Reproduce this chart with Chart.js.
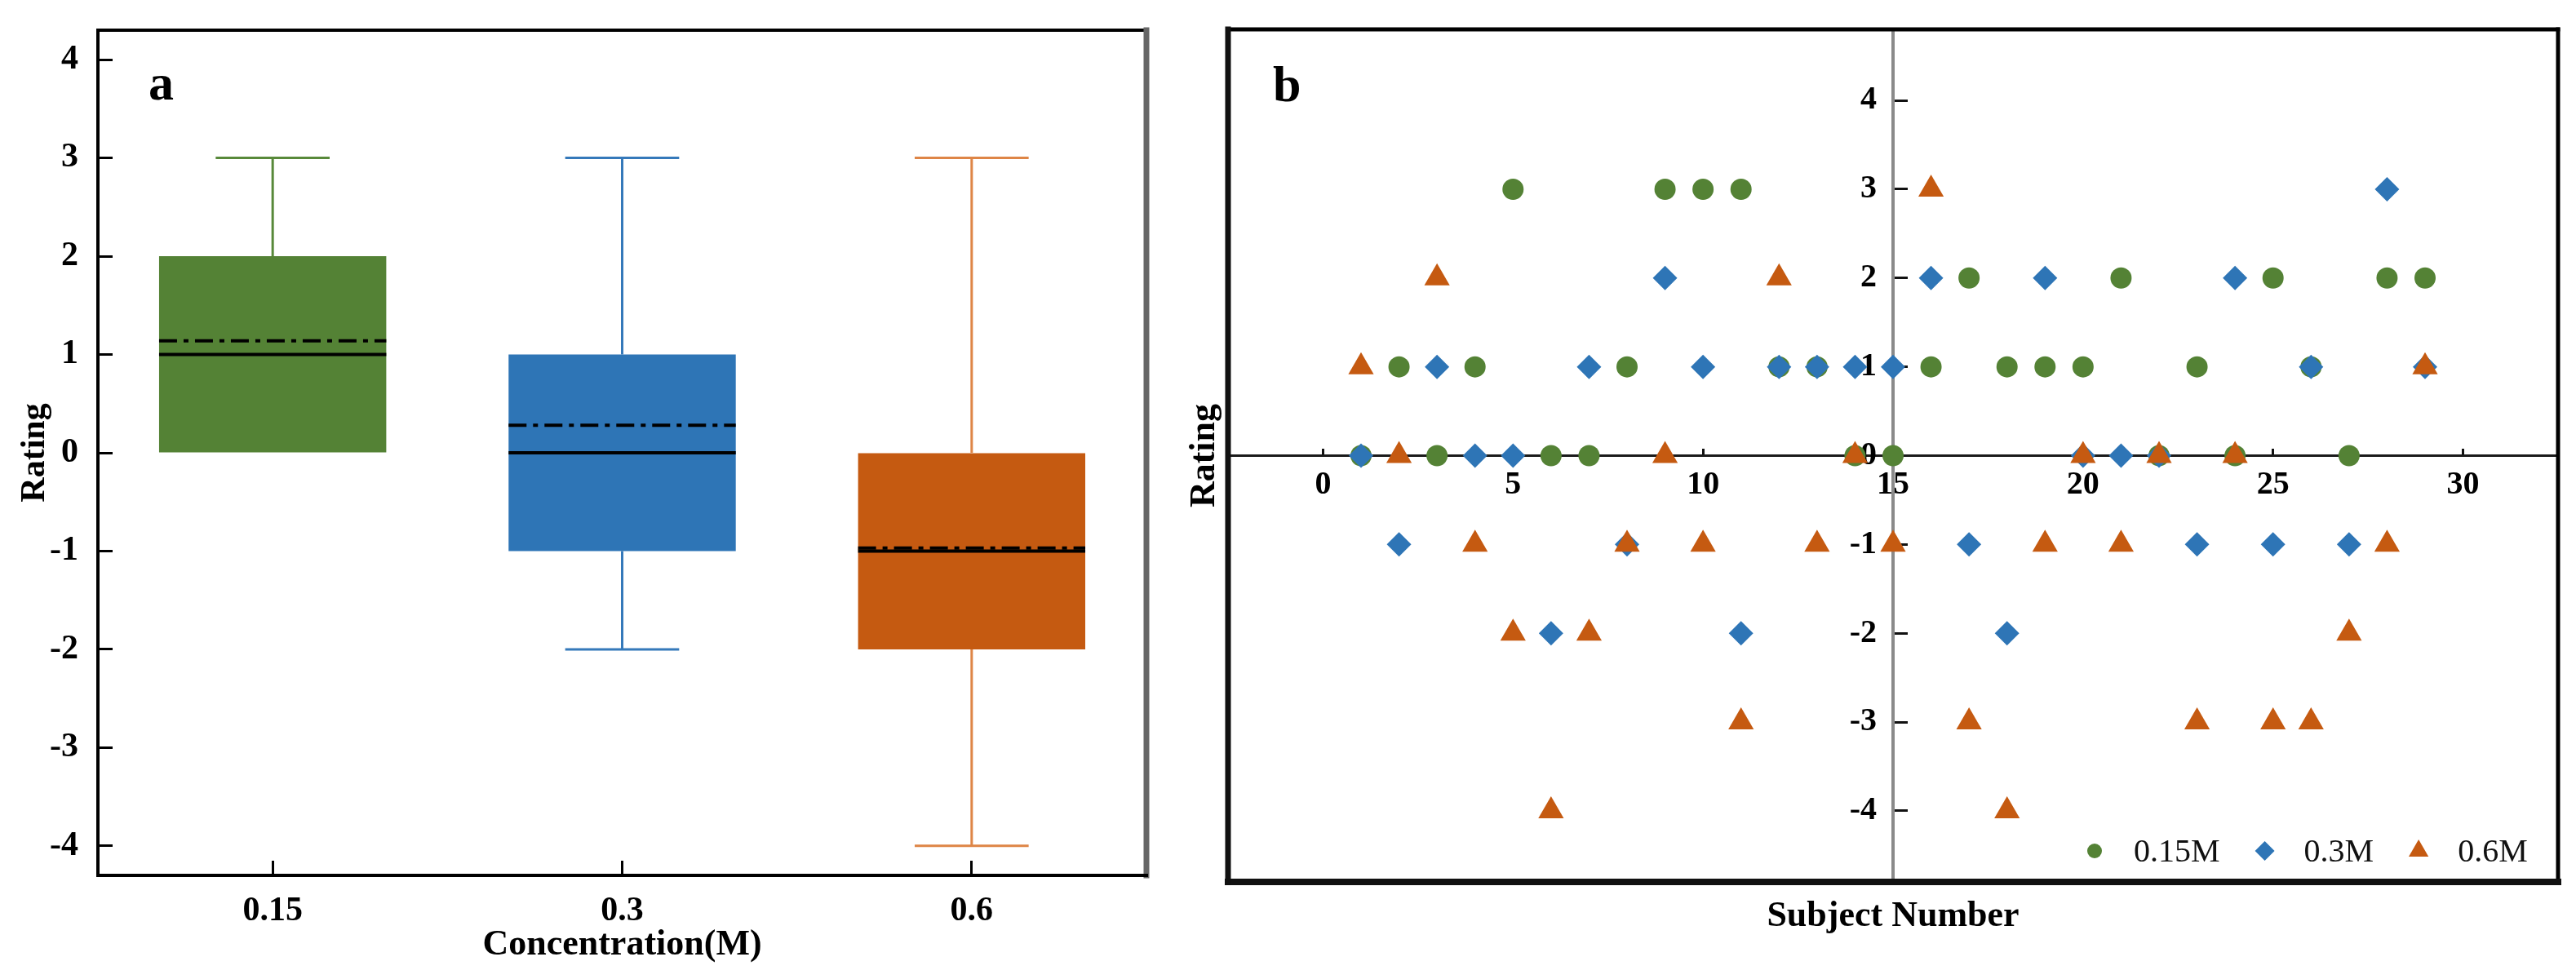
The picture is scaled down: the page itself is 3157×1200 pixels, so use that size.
<!DOCTYPE html>
<html>
<head>
<meta charset="utf-8">
<script src="https://cdn.jsdelivr.net/npm/chart.js@4.4.1/dist/chart.umd.min.js"></script>
<style>
  html, body { margin: 0; padding: 0; background: #fff; }
  #wrap { position: relative; width: 3157px; height: 1200px; }
  #boxplot { position: absolute; left: 0; top: 0; }
  #scatter { position: absolute; left: 1420px; top: 0; }
</style>
</head>
<body>
<div id="wrap">
  <canvas id="boxplot" width="1500" height="1200"></canvas>
  <canvas id="scatter" width="1737" height="1200"></canvas>
</div>
<script>
// panel a - box plot summary
var concentrations = ['0.15', '0.3', '0.6'];
var boxQ1 = [0, -1, -2];
var boxQ3 = [2, 1, 0];
var boxMedian = [1, 0, -1];
var boxMean = [1.14, 0.28, -0.97];
var whiskerLow = [0, -2, -4];
var whiskerHigh = [3, 3, 3];
var ratingTicks = [-4, -3, -2, -1, 0, 1, 2, 3, 4];

// panel b - rating given by each subject
var subjects = [1, 2, 3, 4, 5, 6, 7, 8, 9, 10, 11, 12, 13, 14, 15, 16, 17, 18, 19, 20, 21, 22, 23, 24, 25, 26, 27, 28, 29];
var rating015 = [0, 1, 0, 1, 3, 0, 0, 1, 3, 3, 3, 1, 1, 0, 0, 1, 2, 1, 1, 1, 2, 0, 1, 0, 2, 1, 0, 2, 2];
var rating03 = [0, -1, 1, 0, 0, -2, 1, -1, 2, 1, -2, 1, 1, 1, 1, 2, -1, -2, 2, 0, 0, 0, -1, 2, -1, 1, -1, 3, 1];
var rating06 = [1, 0, 2, -1, -2, -4, -2, -1, 0, -1, -3, 2, -1, 0, -1, 3, -3, -4, -1, 0, -1, 0, -3, 0, -3, -3, -2, -1, 1];
var subjectTicks = [0, 5, 10, 15, 20, 25, 30];
var seriesNames = ['0.15M', '0.3M', '0.6M'];

var boxColors = ['#548235', '#2E75B6', '#C55A11'];
var whiskerColors = ['#58893A', '#3579BA', '#DE8546'];
var serif = "'Liberation Serif', 'Times New Roman', serif";

function fixedTicks(list) {
  return function (scale) {
    scale.ticks = list.map(function (v) { return {value: v}; });
  };
}

// frame around the plot area
var framePlugin = {
  id: 'frame',
  afterDraw: function (chart, args, opts) {
    var a = chart.chartArea, ctx = chart.ctx;
    ctx.save();
    ctx.lineCap = 'square';
    var sides = {
      top: [a.left, a.top, a.right, a.top],
      right: [a.right, a.top, a.right, a.bottom],
      bottom: [a.left, a.bottom, a.right, a.bottom],
      left: [a.left, a.top, a.left, a.bottom]
    };
    Object.keys(sides).forEach(function (k) {
      var s = opts[k];
      if (!s) return;
      var p = sides[k];
      ctx.strokeStyle = s[0];
      ctx.lineWidth = s[1];
      ctx.beginPath();
      ctx.moveTo(p[0], p[1]);
      ctx.lineTo(p[2], p[3]);
      ctx.stroke();
    });
    if (opts.label) {
      ctx.fillStyle = '#000';
      ctx.font = 'bold 62px ' + serif;
      ctx.textBaseline = 'alphabetic';
      ctx.fillText(opts.label, a.left + opts.labelX, a.top + opts.labelY);
    }
    ctx.restore();
  }
};

// whiskers, median and mean lines on top of the bars
var boxExtras = {
  id: 'boxExtras',
  afterDatasetsDraw: function (chart) {
    var ctx = chart.ctx, xs = chart.scales.x, ys = chart.scales.y;
    var step = xs.getPixelForValue(1) - xs.getPixelForValue(0);
    var half = step * 0.325, cap = step * 0.163;
    ctx.save();
    concentrations.forEach(function (c, i) {
      var cx = xs.getPixelForValue(i);
      ctx.strokeStyle = whiskerColors[i];
      ctx.lineWidth = 3;
      ctx.setLineDash([]);
      ctx.beginPath();
      if (whiskerHigh[i] > boxQ3[i]) {
        var yh = ys.getPixelForValue(whiskerHigh[i]);
        ctx.moveTo(cx, ys.getPixelForValue(boxQ3[i]));
        ctx.lineTo(cx, yh);
        ctx.moveTo(cx - cap, yh);
        ctx.lineTo(cx + cap, yh);
      }
      if (whiskerLow[i] < boxQ1[i]) {
        var yl = ys.getPixelForValue(whiskerLow[i]);
        ctx.moveTo(cx, ys.getPixelForValue(boxQ1[i]));
        ctx.lineTo(cx, yl);
        ctx.moveTo(cx - cap, yl);
        ctx.lineTo(cx + cap, yl);
      }
      ctx.stroke();

      ctx.strokeStyle = '#000';
      ctx.lineWidth = 4;
      var ym = ys.getPixelForValue(boxMedian[i]);
      ctx.beginPath();
      ctx.moveTo(cx - half, ym);
      ctx.lineTo(cx + half, ym);
      ctx.stroke();

      ctx.setLineDash([22, 8, 6, 8]);
      var ya = ys.getPixelForValue(boxMean[i]);
      ctx.beginPath();
      ctx.moveTo(cx - half, ya);
      ctx.lineTo(cx + half, ya);
      ctx.stroke();
    });
    ctx.restore();
  }
};

new Chart(document.getElementById('boxplot'), {
  type: 'bar',
  data: {
    labels: concentrations,
    datasets: [{
      data: boxQ1.map(function (q, i) { return [q, boxQ3[i]]; }),
      backgroundColor: boxColors,
      borderWidth: 0,
      barPercentage: 0.65,
      categoryPercentage: 1.0
    }]
  },
  options: {
    responsive: false,
    animation: false,
    layout: {padding: {left: 0, top: 37, right: 95, bottom: 0}},
    plugins: {
      legend: {display: false},
      tooltip: {enabled: false},
      frame: {
        top: ['#000', 4], left: ['#000', 4], bottom: ['#000', 4], right: ['#666', 7],
        label: 'a', labelX: 62, labelY: 85
      }
    },
    scales: {
      x: {
        offset: true,
        grid: {offset: false, drawOnChartArea: false, tickLength: -18, tickWidth: 3, tickColor: '#000'},
        border: {display: false},
        ticks: {color: '#000', padding: 37, maxRotation: 0, font: {family: serif, size: 42, weight: 'bold'}},
        title: {display: true, text: 'Concentration(M)', color: '#000', padding: {top: 0, bottom: 15},
                font: {family: serif, size: 44, weight: 'bold'}},
        afterFit: function (scale) { scale.height = 127; }
      },
      y: {
        min: -4.3,
        max: 4.3,
        afterBuildTicks: fixedTicks(ratingTicks),
        grid: {drawOnChartArea: false, tickLength: -18, tickWidth: 3, tickColor: '#000'},
        border: {display: false},
        ticks: {color: '#000', padding: 42, font: {family: serif, size: 42, weight: 'bold'}},
        title: {display: true, text: 'Rating', color: '#000', padding: {top: 18, bottom: 0},
                font: {family: serif, size: 42, weight: 'bold'}},
        afterFit: function (scale) {
          scale.width = 120;
          scale.paddingTop = 0;
          scale.paddingBottom = 0;
        }
      }
    }
  },
  plugins: [boxExtras, framePlugin]
});

// panel b: axis titles outside the frame and the legend inside it
var scatterExtras = {
  id: 'scatterExtras',
  afterDraw: function (chart) {
    var a = chart.chartArea, ctx = chart.ctx;
    ctx.save();
    ctx.fillStyle = '#000';
    ctx.font = 'bold 44px ' + serif;
    ctx.textAlign = 'center';
    ctx.textBaseline = 'middle';
    ctx.fillText('Subject Number', (a.left + a.right) / 2, a.bottom + 43);
    ctx.save();
    ctx.translate(a.left - 28, (a.top + a.bottom) / 2);
    ctx.rotate(-Math.PI / 2);
    ctx.fillText('Rating', 0, 0);
    ctx.restore();

    // legend
    var sizes = [9, 12, 14];
    var x = a.right - 568, y = a.bottom - 38;
    ctx.font = '40px ' + serif;
    ctx.textAlign = 'left';
    chart.data.datasets.forEach(function (ds, i) {
      ctx.fillStyle = ds.backgroundColor;
      Chart.helpers.drawPoint(ctx, {pointStyle: ds.pointStyle, radius: sizes[i], rotation: 0, borderWidth: 0}, x, y);
      ctx.fillStyle = '#111';
      ctx.fillText(ds.label, x + 48, y + 2);
      x += 48 + ctx.measureText(ds.label).width + 55;
    });
    ctx.restore();
  }
};

function points(values) {
  return subjects.map(function (s, i) { return {x: s, y: values[i]}; });
}

new Chart(document.getElementById('scatter'), {
  type: 'scatter',
  data: {
    datasets: [
      {label: seriesNames[0], data: points(rating015), pointStyle: 'circle', pointRadius: 13,
       backgroundColor: '#548235', borderWidth: 0, order: 3},
      {label: seriesNames[1], data: points(rating03), pointStyle: 'rectRot', pointRadius: 15,
       backgroundColor: '#2E75B6', borderWidth: 0, order: 2},
      {label: seriesNames[2], data: points(rating06), pointStyle: 'triangle', pointRadius: 18,
       backgroundColor: '#C55A11', borderWidth: 0, order: 1}
    ]
  },
  options: {
    responsive: false,
    animation: false,
    layout: {padding: {left: 85, top: 36, right: 22, bottom: 119}},
    plugins: {
      legend: {display: false},
      tooltip: {enabled: false},
      frame: {
        top: ['#000', 5], left: ['#111', 7], bottom: ['#111', 8], right: ['#000', 5],
        label: 'b', labelX: 55, labelY: 88
      }
    },
    scales: {
      x: {
        type: 'linear',
        min: -2.5,
        max: 32.5,
        position: {y: 0},
        afterBuildTicks: fixedTicks(subjectTicks),
        grid: {drawOnChartArea: false, tickLength: -10, tickWidth: 3, tickColor: '#111'},
        border: {color: '#1a1a1a', width: 3},
        ticks: {color: '#000', padding: 22, maxRotation: 0, font: {family: serif, size: 40, weight: 'bold'}},
        afterFit: function (scale) { scale.height = 0; }
      },
      y: {
        min: -4.8,
        max: 4.8,
        position: {x: 15},
        afterBuildTicks: fixedTicks(ratingTicks),
        grid: {drawOnChartArea: false, tickLength: -20, tickWidth: 3, tickColor: '#111'},
        border: {color: '#8a8a8a', width: 4},
        ticks: {
          color: '#000',
          font: {family: serif, size: 40, weight: 'bold'},
          // labels sit right-aligned on the axis; trailing spaces give the gap
          callback: function (v) { return v + '  '; }
        },
        afterFit: function (scale) {
          scale.width = 0;
          scale.paddingTop = 0;
          scale.paddingBottom = 0;
        }
      }
    }
  },
  plugins: [scatterExtras, framePlugin]
});
</script>
</body>
</html>
